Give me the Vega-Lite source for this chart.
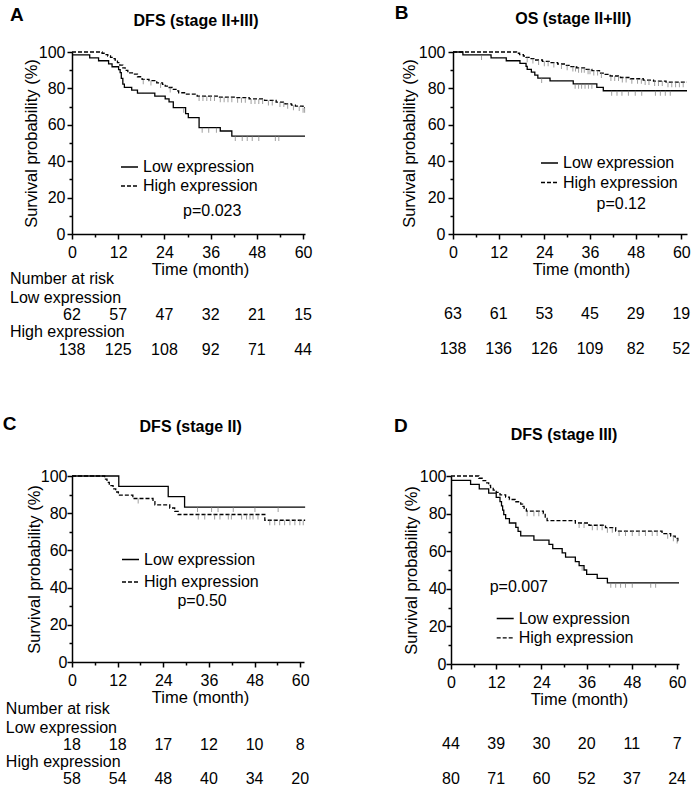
{
"$schema":"https://vega.github.io/schema/vega-lite/v6.json",
"padding":{"left":2,"top":4,"right":0,"bottom":0},
"spacing":57,
"config":{"view":{"stroke":null},"font":"Liberation Sans",
 "axis":{"domainColor":"black","domainWidth":1.5,"tickColor":"black","tickWidth":1.5,"labelColor":"black","labelFont":"Liberation Sans","labelFontSize":16,"titleFont":"Liberation Sans","titleFontSize":16.5,"titleFontWeight":"normal","titleColor":"black","grid":false,"labelFlush":false,"labelOverlap":false},
 "legend":{"labelFont":"Liberation Sans","labelFontSize":16,"labelColor":"black","symbolType":"stroke","symbolSize":289,"symbolStrokeWidth":1.3,"symbolStrokeColor":"black","labelOffset":4,"padding":0,"title":null},
 "text":{"font":"Liberation Sans","fontSize":16,"color":"black"}},
"datasets":{
"km":[
{"p":"A","g":"Low expression","t":0,"s":98.4},{"p":"A","g":"Low expression","t":4.6,"s":96.8},{"p":"A","g":"Low expression","t":6.9,"s":95.2},{"p":"A","g":"Low expression","t":9.5,"s":93.5},{"p":"A","g":"Low expression","t":10.4,"s":91.9},{"p":"A","g":"Low expression","t":12.1,"s":90.3},{"p":"A","g":"Low expression","t":12.5,"s":88.7},{"p":"A","g":"Low expression","t":12.8,"s":85.5},{"p":"A","g":"Low expression","t":13.2,"s":82.3},{"p":"A","g":"Low expression","t":13.6,"s":80.6},{"p":"A","g":"Low expression","t":15.5,"s":79},{"p":"A","g":"Low expression","t":17,"s":77.4},{"p":"A","g":"Low expression","t":21.5,"s":75.8},{"p":"A","g":"Low expression","t":24.2,"s":74.2},{"p":"A","g":"Low expression","t":25.2,"s":72.6},{"p":"A","g":"Low expression","t":26.3,"s":69.4},{"p":"A","g":"Low expression","t":29.5,"s":66.1},{"p":"A","g":"Low expression","t":30.2,"s":63.9},{"p":"A","g":"Low expression","t":33,"s":58.4},{"p":"A","g":"Low expression","t":38.5,"s":56.6},{"p":"A","g":"Low expression","t":41.5,"s":53.8},{"p":"A","g":"Low expression","t":60.5,"s":53.8},
{"p":"A","g":"High expression","t":0,"s":100},{"p":"A","g":"High expression","t":7.8,"s":99.3},{"p":"A","g":"High expression","t":8.6,"s":98.6},{"p":"A","g":"High expression","t":9.3,"s":97.8},{"p":"A","g":"High expression","t":10,"s":97.1},{"p":"A","g":"High expression","t":10.6,"s":96.4},{"p":"A","g":"High expression","t":11.2,"s":95.6},{"p":"A","g":"High expression","t":11.8,"s":94.2},{"p":"A","g":"High expression","t":12.4,"s":92.8},{"p":"A","g":"High expression","t":13.2,"s":91.3},{"p":"A","g":"High expression","t":13.8,"s":89.9},{"p":"A","g":"High expression","t":14.5,"s":88.5},{"p":"A","g":"High expression","t":16,"s":87.8},{"p":"A","g":"High expression","t":17,"s":86.4},{"p":"A","g":"High expression","t":18.2,"s":85},{"p":"A","g":"High expression","t":20,"s":84.3},{"p":"A","g":"High expression","t":22,"s":83},{"p":"A","g":"High expression","t":23.5,"s":82.2},{"p":"A","g":"High expression","t":24.2,"s":81.3},{"p":"A","g":"High expression","t":25,"s":80.5},{"p":"A","g":"High expression","t":26,"s":79.5},{"p":"A","g":"High expression","t":27,"s":78.6},{"p":"A","g":"High expression","t":27.7,"s":77.6},{"p":"A","g":"High expression","t":29.5,"s":76.8},{"p":"A","g":"High expression","t":32.5,"s":75.8},{"p":"A","g":"High expression","t":38,"s":75.2},{"p":"A","g":"High expression","t":42.3,"s":74.9},{"p":"A","g":"High expression","t":46,"s":74.2},{"p":"A","g":"High expression","t":50,"s":73.4},{"p":"A","g":"High expression","t":53,"s":72.5},{"p":"A","g":"High expression","t":55.3,"s":71.5},{"p":"A","g":"High expression","t":57,"s":70.8},{"p":"A","g":"High expression","t":58,"s":70.3},{"p":"A","g":"High expression","t":60,"s":69.4},{"p":"A","g":"High expression","t":60.5,"s":69.4},
{"p":"B","g":"Low expression","t":0,"s":100},{"p":"B","g":"Low expression","t":2.6,"s":98.4},{"p":"B","g":"Low expression","t":10,"s":96.8},{"p":"B","g":"Low expression","t":14,"s":95.2},{"p":"B","g":"Low expression","t":17.6,"s":93.7},{"p":"B","g":"Low expression","t":19.2,"s":92.1},{"p":"B","g":"Low expression","t":19.5,"s":90.5},{"p":"B","g":"Low expression","t":20.6,"s":88.9},{"p":"B","g":"Low expression","t":21.5,"s":87.3},{"p":"B","g":"Low expression","t":22.3,"s":85.7},{"p":"B","g":"Low expression","t":25.5,"s":84.1},{"p":"B","g":"Low expression","t":31.6,"s":82.5},{"p":"B","g":"Low expression","t":37.8,"s":80.6},{"p":"B","g":"Low expression","t":39.5,"s":78.7},{"p":"B","g":"Low expression","t":61.5,"s":78.7},
{"p":"B","g":"High expression","t":0,"s":100},{"p":"B","g":"High expression","t":16.7,"s":99.3},{"p":"B","g":"High expression","t":17.5,"s":98.6},{"p":"B","g":"High expression","t":18.5,"s":97.8},{"p":"B","g":"High expression","t":19.2,"s":97.1},{"p":"B","g":"High expression","t":20.2,"s":96.4},{"p":"B","g":"High expression","t":21.5,"s":95.6},{"p":"B","g":"High expression","t":23.5,"s":94.9},{"p":"B","g":"High expression","t":25.5,"s":94.2},{"p":"B","g":"High expression","t":27.5,"s":93.4},{"p":"B","g":"High expression","t":29.5,"s":92.7},{"p":"B","g":"High expression","t":31,"s":92},{"p":"B","g":"High expression","t":32.5,"s":91.3},{"p":"B","g":"High expression","t":35,"s":90.5},{"p":"B","g":"High expression","t":36.5,"s":89.8},{"p":"B","g":"High expression","t":38.5,"s":88.4},{"p":"B","g":"High expression","t":40,"s":87.7},{"p":"B","g":"High expression","t":41.3,"s":86.8},{"p":"B","g":"High expression","t":44,"s":86},{"p":"B","g":"High expression","t":46.6,"s":85.3},{"p":"B","g":"High expression","t":50,"s":84.6},{"p":"B","g":"High expression","t":52.7,"s":84},{"p":"B","g":"High expression","t":56,"s":83.4},{"p":"B","g":"High expression","t":61.5,"s":83.4},
{"p":"C","g":"Low expression","t":0,"s":100},{"p":"C","g":"Low expression","t":12.3,"s":94.4},{"p":"C","g":"Low expression","t":25.3,"s":88.9},{"p":"C","g":"Low expression","t":29.6,"s":83.3},{"p":"C","g":"Low expression","t":61.3,"s":83.3},
{"p":"C","g":"High expression","t":0,"s":100},{"p":"C","g":"High expression","t":8.6,"s":98.3},{"p":"C","g":"High expression","t":9.2,"s":96.6},{"p":"C","g":"High expression","t":9.8,"s":94.8},{"p":"C","g":"High expression","t":10.8,"s":93.1},{"p":"C","g":"High expression","t":11.5,"s":91.4},{"p":"C","g":"High expression","t":12.2,"s":89.7},{"p":"C","g":"High expression","t":16,"s":87.9},{"p":"C","g":"High expression","t":21.3,"s":86.2},{"p":"C","g":"High expression","t":21.8,"s":84.5},{"p":"C","g":"High expression","t":25.7,"s":82.8},{"p":"C","g":"High expression","t":27,"s":81},{"p":"C","g":"High expression","t":27.9,"s":79.3},{"p":"C","g":"High expression","t":50.7,"s":76.2},{"p":"C","g":"High expression","t":61.3,"s":76.2},
{"p":"D","g":"Low expression","t":0,"s":97.7},{"p":"D","g":"Low expression","t":5.2,"s":95.5},{"p":"D","g":"Low expression","t":7.5,"s":93.2},{"p":"D","g":"Low expression","t":10,"s":90.9},{"p":"D","g":"Low expression","t":12,"s":88.6},{"p":"D","g":"Low expression","t":13,"s":86.4},{"p":"D","g":"Low expression","t":13.4,"s":84.1},{"p":"D","g":"Low expression","t":13.7,"s":81.8},{"p":"D","g":"Low expression","t":14,"s":79.5},{"p":"D","g":"Low expression","t":14.5,"s":77.3},{"p":"D","g":"Low expression","t":15.5,"s":75},{"p":"D","g":"Low expression","t":17.2,"s":72.7},{"p":"D","g":"Low expression","t":17.8,"s":70.5},{"p":"D","g":"Low expression","t":18.5,"s":68.2},{"p":"D","g":"Low expression","t":22,"s":65.9},{"p":"D","g":"Low expression","t":26,"s":63.6},{"p":"D","g":"Low expression","t":27,"s":61.4},{"p":"D","g":"Low expression","t":29.5,"s":59.1},{"p":"D","g":"Low expression","t":30.4,"s":56.8},{"p":"D","g":"Low expression","t":33,"s":54.5},{"p":"D","g":"Low expression","t":34,"s":52.3},{"p":"D","g":"Low expression","t":35.3,"s":50},{"p":"D","g":"Low expression","t":36,"s":47.7},{"p":"D","g":"Low expression","t":38.8,"s":45.5},{"p":"D","g":"Low expression","t":41.5,"s":43.2},{"p":"D","g":"Low expression","t":60.5,"s":43.2},
{"p":"D","g":"High expression","t":0,"s":100},{"p":"D","g":"High expression","t":7.4,"s":98.8},{"p":"D","g":"High expression","t":8.5,"s":97.5},{"p":"D","g":"High expression","t":9.2,"s":96.3},{"p":"D","g":"High expression","t":10,"s":95},{"p":"D","g":"High expression","t":10.5,"s":93.8},{"p":"D","g":"High expression","t":11.2,"s":92.5},{"p":"D","g":"High expression","t":12,"s":91.3},{"p":"D","g":"High expression","t":13,"s":90},{"p":"D","g":"High expression","t":14.5,"s":88.8},{"p":"D","g":"High expression","t":15.5,"s":87.5},{"p":"D","g":"High expression","t":17,"s":86.3},{"p":"D","g":"High expression","t":18.5,"s":85},{"p":"D","g":"High expression","t":19,"s":83.8},{"p":"D","g":"High expression","t":19.4,"s":82.5},{"p":"D","g":"High expression","t":20,"s":81.3},{"p":"D","g":"High expression","t":24.5,"s":80},{"p":"D","g":"High expression","t":25,"s":77.5},{"p":"D","g":"High expression","t":25.5,"s":76.3},{"p":"D","g":"High expression","t":33,"s":75},{"p":"D","g":"High expression","t":36.6,"s":73.8},{"p":"D","g":"High expression","t":41,"s":72.5},{"p":"D","g":"High expression","t":43.7,"s":70.7},{"p":"D","g":"High expression","t":56,"s":69.3},{"p":"D","g":"High expression","t":58.3,"s":68},{"p":"D","g":"High expression","t":59.5,"s":66.8},{"p":"D","g":"High expression","t":60.2,"s":65.5},{"p":"D","g":"High expression","t":60.5,"s":65.5}
],
"cens":[
{"p":"A","t":29,"s":69.4},{"p":"A","t":33.8,"s":58.4},{"p":"A","t":35.5,"s":58.4},{"p":"A","t":37.5,"s":58.4},{"p":"A","t":42.4,"s":53.8},{"p":"A","t":44.2,"s":53.8},{"p":"A","t":45.5,"s":53.8},{"p":"A","t":46.8,"s":53.8},{"p":"A","t":48.5,"s":53.8},{"p":"A","t":52.8,"s":53.8},{"p":"A","t":53.7,"s":53.8},
{"p":"A","t":18.5,"s":85},{"p":"A","t":20.5,"s":84.3},{"p":"A","t":23,"s":83},{"p":"A","t":25.5,"s":80.5},{"p":"A","t":33,"s":75.8},{"p":"A","t":34,"s":75.8},{"p":"A","t":35,"s":75.8},{"p":"A","t":36,"s":75.8},{"p":"A","t":37,"s":75.8},{"p":"A","t":38.5,"s":75.2},{"p":"A","t":39.5,"s":75.2},{"p":"A","t":40.5,"s":75.2},{"p":"A","t":41.5,"s":75.2},{"p":"A","t":43,"s":74.9},{"p":"A","t":44,"s":74.9},{"p":"A","t":45,"s":74.9},{"p":"A","t":46.5,"s":74.2},{"p":"A","t":47.5,"s":74.2},{"p":"A","t":48.5,"s":74.2},{"p":"A","t":49.5,"s":74.2},{"p":"A","t":51,"s":73.4},{"p":"A","t":52,"s":73.4},{"p":"A","t":54,"s":72.5},{"p":"A","t":55,"s":72.5},{"p":"A","t":56,"s":71.5},{"p":"A","t":57.5,"s":70.8},{"p":"A","t":59,"s":70.3},{"p":"A","t":60,"s":69.4},{"p":"A","t":60.4,"s":69.4},
{"p":"B","t":7.5,"s":98.4},{"p":"B","t":23.3,"s":85.7},{"p":"B","t":32.1,"s":82.5},{"p":"B","t":33,"s":82.5},{"p":"B","t":33.8,"s":82.5},{"p":"B","t":34.7,"s":82.5},{"p":"B","t":35.6,"s":82.5},{"p":"B","t":36.5,"s":82.5},{"p":"B","t":41.7,"s":78.7},{"p":"B","t":43.1,"s":78.7},{"p":"B","t":44.4,"s":78.7},{"p":"B","t":46.1,"s":78.7},{"p":"B","t":47.9,"s":78.7},{"p":"B","t":49.6,"s":78.7},{"p":"B","t":53.2,"s":78.7},{"p":"B","t":54.5,"s":78.7},{"p":"B","t":55.8,"s":78.7},{"p":"B","t":57.1,"s":78.7},
{"p":"B","t":19.5,"s":97.1},{"p":"B","t":21,"s":96.4},{"p":"B","t":22.5,"s":95.6},{"p":"B","t":24,"s":94.9},{"p":"B","t":25,"s":94.9},{"p":"B","t":26.5,"s":94.2},{"p":"B","t":28.5,"s":93.4},{"p":"B","t":30,"s":92.7},{"p":"B","t":31.5,"s":92},{"p":"B","t":32.2,"s":92},{"p":"B","t":33,"s":91.3},{"p":"B","t":33.8,"s":91.3},{"p":"B","t":34.5,"s":91.3},{"p":"B","t":35.5,"s":90.5},{"p":"B","t":36,"s":90.5},{"p":"B","t":37,"s":89.8},{"p":"B","t":38,"s":89.8},{"p":"B","t":39,"s":88.4},{"p":"B","t":41.5,"s":86.8},{"p":"B","t":42.5,"s":86.8},{"p":"B","t":43.5,"s":86.8},{"p":"B","t":44.5,"s":86},{"p":"B","t":45.5,"s":86},{"p":"B","t":47,"s":85.3},{"p":"B","t":48.5,"s":85.3},{"p":"B","t":49.5,"s":85.3},{"p":"B","t":50.5,"s":84.6},{"p":"B","t":51.5,"s":84.6},{"p":"B","t":53,"s":84},{"p":"B","t":54,"s":84},{"p":"B","t":55,"s":84},{"p":"B","t":56.5,"s":83.4},{"p":"B","t":57.5,"s":83.4},{"p":"B","t":58.5,"s":83.4},{"p":"B","t":59.5,"s":83.4},{"p":"B","t":60.5,"s":83.4},
{"p":"C","t":33,"s":83.3},{"p":"C","t":36.7,"s":83.3},{"p":"C","t":38.4,"s":83.3},{"p":"C","t":42.4,"s":83.3},{"p":"C","t":48.1,"s":83.3},{"p":"C","t":54.2,"s":83.3},
{"p":"C","t":17.4,"s":87.9},{"p":"C","t":33.2,"s":79.3},{"p":"C","t":34.9,"s":79.3},{"p":"C","t":37.5,"s":79.3},{"p":"C","t":38.9,"s":79.3},{"p":"C","t":41.1,"s":79.3},{"p":"C","t":41.9,"s":79.3},{"p":"C","t":44.6,"s":79.3},{"p":"C","t":45.9,"s":79.3},{"p":"C","t":46.8,"s":79.3},{"p":"C","t":47.6,"s":79.3},{"p":"C","t":48.9,"s":79.3},{"p":"C","t":52,"s":76.2},{"p":"C","t":53.3,"s":76.2},{"p":"C","t":54.6,"s":76.2},{"p":"C","t":55.9,"s":76.2},{"p":"C","t":57.3,"s":76.2},{"p":"C","t":58.6,"s":76.2},{"p":"C","t":59.9,"s":76.2},{"p":"C","t":60.8,"s":76.2},
{"p":"D","t":34.8,"s":52.3},{"p":"D","t":42.4,"s":43.2},{"p":"D","t":43.7,"s":43.2},{"p":"D","t":45,"s":43.2},{"p":"D","t":46.3,"s":43.2},{"p":"D","t":48.1,"s":43.2},{"p":"D","t":53,"s":43.2},{"p":"D","t":54.3,"s":43.2},
{"p":"D","t":20.2,"s":81.3},{"p":"D","t":22,"s":81.3},{"p":"D","t":23.3,"s":81.3},{"p":"D","t":34,"s":75},{"p":"D","t":35.3,"s":75},{"p":"D","t":37.5,"s":73.8},{"p":"D","t":38.8,"s":73.8},{"p":"D","t":40.1,"s":73.8},{"p":"D","t":41.5,"s":72.5},{"p":"D","t":42.8,"s":72.5},{"p":"D","t":44.6,"s":70.7},{"p":"D","t":46.3,"s":70.7},{"p":"D","t":48.1,"s":70.7},{"p":"D","t":49.9,"s":70.7},{"p":"D","t":51.6,"s":70.7},{"p":"D","t":53.4,"s":70.7},{"p":"D","t":54.7,"s":70.7},{"p":"D","t":57.5,"s":69.3},{"p":"D","t":59,"s":68},{"p":"D","t":60,"s":66.8}
],
"risk":[
{"p":"A","g":"L","t":0,"n":62},{"p":"A","g":"L","t":12,"n":57},{"p":"A","g":"L","t":24,"n":47},{"p":"A","g":"L","t":36,"n":32},{"p":"A","g":"L","t":48,"n":21},{"p":"A","g":"L","t":60,"n":15},
{"p":"A","g":"H","t":0,"n":138},{"p":"A","g":"H","t":12,"n":125},{"p":"A","g":"H","t":24,"n":108},{"p":"A","g":"H","t":36,"n":92},{"p":"A","g":"H","t":48,"n":71},{"p":"A","g":"H","t":60,"n":44},
{"p":"B","g":"L","t":0,"n":63},{"p":"B","g":"L","t":12,"n":61},{"p":"B","g":"L","t":24,"n":53},{"p":"B","g":"L","t":36,"n":45},{"p":"B","g":"L","t":48,"n":29},{"p":"B","g":"L","t":60,"n":19},
{"p":"B","g":"H","t":0,"n":138},{"p":"B","g":"H","t":12,"n":136},{"p":"B","g":"H","t":24,"n":126},{"p":"B","g":"H","t":36,"n":109},{"p":"B","g":"H","t":48,"n":82},{"p":"B","g":"H","t":60,"n":52},
{"p":"C","g":"L","t":0,"n":18},{"p":"C","g":"L","t":12,"n":18},{"p":"C","g":"L","t":24,"n":17},{"p":"C","g":"L","t":36,"n":12},{"p":"C","g":"L","t":48,"n":10},{"p":"C","g":"L","t":60,"n":8},
{"p":"C","g":"H","t":0,"n":58},{"p":"C","g":"H","t":12,"n":54},{"p":"C","g":"H","t":24,"n":48},{"p":"C","g":"H","t":36,"n":40},{"p":"C","g":"H","t":48,"n":34},{"p":"C","g":"H","t":60,"n":20},
{"p":"D","g":"L","t":0,"n":44},{"p":"D","g":"L","t":12,"n":39},{"p":"D","g":"L","t":24,"n":30},{"p":"D","g":"L","t":36,"n":20},{"p":"D","g":"L","t":48,"n":11},{"p":"D","g":"L","t":60,"n":7},
{"p":"D","g":"H","t":0,"n":80},{"p":"D","g":"H","t":12,"n":71},{"p":"D","g":"H","t":24,"n":60},{"p":"D","g":"H","t":36,"n":52},{"p":"D","g":"H","t":48,"n":37},{"p":"D","g":"H","t":60,"n":24}
]},
"resolve":{"scale":{"x":"independent","y":"independent","strokeDash":"independent"},"axis":{"x":"independent","y":"independent"},"legend":{"strokeDash":"independent"}},
"vconcat":[
{"spacing":82,
 "resolve":{"scale":{"x":"independent","y":"independent","strokeDash":"independent"},"axis":{"x":"independent","y":"independent"},"legend":{"strokeDash":"independent"}},
 "hconcat":[
 {"width":233,"height":182,
  "layer":[
   {"data":{"name":"km"},"transform":[{"filter":"datum.p==='A'"}],
    "mark":{"type":"line","interpolate":"step-after","color":"black","strokeWidth":1.3},
    "encoding":{
     "x":{"field":"t","type":"quantitative","scale":{"domain":[0,60.5],"nice":false,"zero":false},
      "axis":{"title":"Time (month)","values":[0,6,12,18,24,30,36,42,48,54,60],"tickCount":30,"labelExpr":"datum.value % 12 === 0 ? datum.label : ''","labelOverlap":false,"tickSize":{"condition":{"test":"datum.value % 12 === 0","value":5},"value":3},"labelPadding":5.5,"titleX":128,"titlePadding":1}},
     "y":{"field":"s","type":"quantitative","scale":{"domain":[0,100],"nice":false},
      "axis":{"title":"Survival probability (%)","values":[0,10,20,30,40,50,60,70,80,90,100],"tickCount":30,"labelExpr":"datum.value % 20 === 0 ? datum.label : ''","labelOverlap":false,"tickSize":{"condition":{"test":"datum.value % 20 === 0","value":5},"value":3},"labelPadding":2,"titlePadding":-1}},
     "strokeDash":{"field":"g","type":"nominal","scale":{"domain":["Low expression","High expression"],"range":[[1,0],[4,2]]},
      "legend":{"orient":"none","legendX":48,"legendY":105.5,"rowPadding":1}}}},
   {"data":{"name":"cens"},"transform":[{"filter":"datum.p==='A'"}],"mark":{"type":"tick","orient":"vertical","color":"#777","size":5,"thickness":1,"yOffset":2.5},
    "encoding":{"x":{"field":"t","type":"quantitative"},"y":{"field":"s","type":"quantitative"}}},
   {"data":{"values":[{}]},"mark":{"type":"text","text":"A","fontSize":19,"fontWeight":"bold","align":"left","baseline":"middle"},"encoding":{"x":{"datum":-16.1},"y":{"datum":120.3}}},
   {"data":{"values":[{}]},"mark":{"type":"text","text":"DFS (stage II+III)","fontSize":16,"fontWeight":"bold","align":"center","baseline":"middle"},"encoding":{"x":{"datum":32.2},"y":{"datum":117}}},
   {"data":{"values":[{}]},"mark":{"type":"text","text":"p=0.023","align":"center","baseline":"middle"},"encoding":{"x":{"datum":36.4},"y":{"datum":12.6}}},
   {"data":{"values":[{}]},"mark":{"type":"text","text":"Number at risk","align":"left","baseline":"middle"},"encoding":{"x":{"datum":-16.1},"y":{"datum":-24.5}}},
   {"data":{"values":[{}]},"mark":{"type":"text","text":"Low expression","align":"left","baseline":"middle"},"encoding":{"x":{"datum":-16.1},"y":{"datum":-35}}},
   {"data":{"values":[{}]},"mark":{"type":"text","text":"High expression","align":"left","baseline":"middle"},"encoding":{"x":{"datum":-16.1},"y":{"datum":-53.6}}},
   {"data":{"name":"risk"},"transform":[{"filter":"datum.p==='A' && datum.g==='L'"}],"mark":{"type":"text","align":"center","baseline":"middle"},"encoding":{"x":{"field":"t","type":"quantitative"},"y":{"datum":-44.3},"text":{"field":"n"}}},
   {"data":{"name":"risk"},"transform":[{"filter":"datum.p==='A' && datum.g==='H'"}],"mark":{"type":"text","align":"center","baseline":"middle"},"encoding":{"x":{"field":"t","type":"quantitative"},"y":{"datum":-63.5},"text":{"field":"n"}}}
  ]},
 {"width":234,"height":182,
  "layer":[
   {"data":{"name":"km"},"transform":[{"filter":"datum.p==='B'"}],
    "mark":{"type":"line","interpolate":"step-after","color":"black","strokeWidth":1.3},
    "encoding":{
     "x":{"field":"t","type":"quantitative","scale":{"domain":[0,61.5],"nice":false,"zero":false},
      "axis":{"title":"Time (month)","values":[0,6,12,18,24,30,36,42,48,54,60],"tickCount":30,"labelExpr":"datum.value % 12 === 0 ? datum.label : ''","labelOverlap":false,"tickSize":{"condition":{"test":"datum.value % 12 === 0","value":5},"value":3},"labelPadding":5.5,"titleX":128,"titlePadding":1}},
     "y":{"field":"s","type":"quantitative","scale":{"domain":[0,100],"nice":false},
      "axis":{"title":"Survival probability (%)","values":[0,10,20,30,40,50,60,70,80,90,100],"tickCount":30,"labelExpr":"datum.value % 20 === 0 ? datum.label : ''","labelOverlap":false,"tickSize":{"condition":{"test":"datum.value % 20 === 0","value":5},"value":3},"labelPadding":3,"titlePadding":0.5}},
     "strokeDash":{"field":"g","type":"nominal","scale":{"domain":["Low expression","High expression"],"range":[[1,0],[4,2]]},
      "legend":{"orient":"none","legendX":87,"legendY":101.5,"rowPadding":1.5}}}},
   {"data":{"name":"cens"},"transform":[{"filter":"datum.p==='B'"}],"mark":{"type":"tick","orient":"vertical","color":"#777","size":5,"thickness":1,"yOffset":2.5},
    "encoding":{"x":{"field":"t","type":"quantitative"},"y":{"field":"s","type":"quantitative"}}},
   {"data":{"values":[{}]},"mark":{"type":"text","text":"B","fontSize":19,"fontWeight":"bold","align":"left","baseline":"middle"},"encoding":{"x":{"datum":-15.3},"y":{"datum":121.4}}},
   {"data":{"values":[{}]},"mark":{"type":"text","text":"OS (stage II+III)","fontSize":16,"fontWeight":"bold","align":"center","baseline":"middle"},"encoding":{"x":{"datum":31.6},"y":{"datum":118.1}}},
   {"data":{"values":[{}]},"mark":{"type":"text","text":"p=0.12","align":"center","baseline":"middle"},"encoding":{"x":{"datum":44.2},"y":{"datum":16.5}}},
   {"data":{"name":"risk"},"transform":[{"filter":"datum.p==='B' && datum.g==='L'"}],"mark":{"type":"text","align":"center","baseline":"middle"},"encoding":{"x":{"field":"t","type":"quantitative"},"y":{"datum":-44},"text":{"field":"n"}}},
   {"data":{"name":"risk"},"transform":[{"filter":"datum.p==='B' && datum.g==='H'"}],"mark":{"type":"text","align":"center","baseline":"middle"},"encoding":{"x":{"field":"t","type":"quantitative"},"y":{"datum":-63.2},"text":{"field":"n"}}}
  ]}
 ]},
{"spacing":84,
 "resolve":{"scale":{"x":"independent","y":"independent","strokeDash":"independent"},"axis":{"x":"independent","y":"independent"},"legend":{"strokeDash":"independent"}},
 "hconcat":[
 {"width":232,"height":186,
  "layer":[
   {"data":{"name":"km"},"transform":[{"filter":"datum.p==='C'"}],
    "mark":{"type":"line","interpolate":"step-after","color":"black","strokeWidth":1.3},
    "encoding":{
     "x":{"field":"t","type":"quantitative","scale":{"domain":[0,61],"nice":false,"zero":false},
      "axis":{"title":"Time (month)","values":[0,6,12,18,24,30,36,42,48,54,60],"tickCount":30,"labelExpr":"datum.value % 12 === 0 ? datum.label : ''","labelOverlap":false,"tickSize":{"condition":{"test":"datum.value % 12 === 0","value":5},"value":3},"labelPadding":5.5,"titleX":128,"titlePadding":1}},
     "y":{"field":"s","type":"quantitative","scale":{"domain":[0,100],"nice":false},
      "axis":{"title":"Survival probability (%)","values":[0,10,20,30,40,50,60,70,80,90,100],"tickCount":30,"labelExpr":"datum.value % 20 === 0 ? datum.label : ''","labelOverlap":false,"tickSize":{"condition":{"test":"datum.value % 20 === 0","value":5},"value":3},"labelPadding":0,"titlePadding":-2}},
     "strokeDash":{"field":"g","type":"nominal","scale":{"domain":["Low expression","High expression"],"range":[[1,0],[4,2]]},
      "legend":{"orient":"none","legendX":49,"legendY":74,"rowPadding":4.5}}}},
   {"data":{"name":"cens"},"transform":[{"filter":"datum.p==='C'"}],"mark":{"type":"tick","orient":"vertical","color":"#777","size":5,"thickness":1,"yOffset":2.5},
    "encoding":{"x":{"field":"t","type":"quantitative"},"y":{"field":"s","type":"quantitative"}}},
   {"data":{"values":[{}]},"mark":{"type":"text","text":"C","fontSize":19,"fontWeight":"bold","align":"left","baseline":"middle"},"encoding":{"x":{"datum":-18.2},"y":{"datum":127.7}}},
   {"data":{"values":[{}]},"mark":{"type":"text","text":"DFS (stage II)","fontSize":16,"fontWeight":"bold","align":"center","baseline":"middle"},"encoding":{"x":{"datum":31.2},"y":{"datum":126.3}}},
   {"data":{"values":[{}]},"mark":{"type":"text","text":"p=0.50","align":"center","baseline":"middle"},"encoding":{"x":{"datum":34.2},"y":{"datum":33}}},
   {"data":{"values":[{}]},"mark":{"type":"text","text":"Number at risk","align":"left","baseline":"middle"},"encoding":{"x":{"datum":-17.4},"y":{"datum":-25}}},
   {"data":{"values":[{}]},"mark":{"type":"text","text":"Low expression","align":"left","baseline":"middle"},"encoding":{"x":{"datum":-17.4},"y":{"datum":-35.4}}},
   {"data":{"values":[{}]},"mark":{"type":"text","text":"High expression","align":"left","baseline":"middle"},"encoding":{"x":{"datum":-17.4},"y":{"datum":-54}}},
   {"data":{"name":"risk"},"transform":[{"filter":"datum.p==='C' && datum.g==='L'"}],"mark":{"type":"text","align":"center","baseline":"middle"},"encoding":{"x":{"field":"t","type":"quantitative"},"y":{"datum":-44.4},"text":{"field":"n"}}},
   {"data":{"name":"risk"},"transform":[{"filter":"datum.p==='C' && datum.g==='H'"}],"mark":{"type":"text","align":"center","baseline":"middle"},"encoding":{"x":{"field":"t","type":"quantitative"},"y":{"datum":-63},"text":{"field":"n"}}}
  ]},
 {"width":228,"height":188,
  "layer":[
   {"data":{"name":"km"},"transform":[{"filter":"datum.p==='D'"}],
    "mark":{"type":"line","interpolate":"step-after","color":"black","strokeWidth":1.3},
    "encoding":{
     "x":{"field":"t","type":"quantitative","scale":{"domain":[0,60.5],"nice":false,"zero":false},
      "axis":{"title":"Time (month)","values":[0,6,12,18,24,30,36,42,48,54,60],"tickCount":30,"labelExpr":"datum.value % 12 === 0 ? datum.label : ''","labelOverlap":false,"tickSize":{"condition":{"test":"datum.value % 12 === 0","value":5},"value":3},"labelPadding":5.5,"titleX":128,"titlePadding":0.5}},
     "y":{"field":"s","type":"quantitative","scale":{"domain":[0,100],"nice":false},
      "axis":{"title":"Survival probability (%)","values":[0,10,20,30,40,50,60,70,80,90,100],"tickCount":30,"labelExpr":"datum.value % 20 === 0 ? datum.label : ''","labelOverlap":false,"tickSize":{"condition":{"test":"datum.value % 20 === 0","value":5},"value":3},"labelPadding":0,"titlePadding":0}},
     "strokeDash":{"field":"g","type":"nominal","scale":{"domain":["Low expression","High expression"],"range":[[1,0],[4,2]]},
      "legend":{"orient":"none","legendX":44.7,"legendY":133,"rowPadding":1.3}}}},
   {"data":{"name":"cens"},"transform":[{"filter":"datum.p==='D'"}],"mark":{"type":"tick","orient":"vertical","color":"#777","size":5,"thickness":1,"yOffset":2.5},
    "encoding":{"x":{"field":"t","type":"quantitative"},"y":{"field":"s","type":"quantitative"}}},
   {"data":{"values":[{}]},"mark":{"type":"text","text":"D","fontSize":19,"fontWeight":"bold","align":"left","baseline":"middle"},"encoding":{"x":{"datum":-15.1},"y":{"datum":126.6}}},
   {"data":{"values":[{}]},"mark":{"type":"text","text":"DFS (stage III)","fontSize":16,"fontWeight":"bold","align":"center","baseline":"middle"},"encoding":{"x":{"datum":30},"y":{"datum":121.8}}},
   {"data":{"values":[{}]},"mark":{"type":"text","text":"p=0.007","align":"center","baseline":"middle"},"encoding":{"x":{"datum":18},"y":{"datum":40.7}}},
   {"data":{"name":"risk"},"transform":[{"filter":"datum.p==='D' && datum.g==='L'"}],"mark":{"type":"text","align":"center","baseline":"middle"},"encoding":{"x":{"field":"t","type":"quantitative"},"y":{"datum":-42.4},"text":{"field":"n"}}},
   {"data":{"name":"risk"},"transform":[{"filter":"datum.p==='D' && datum.g==='H'"}],"mark":{"type":"text","align":"center","baseline":"middle"},"encoding":{"x":{"field":"t","type":"quantitative"},"y":{"datum":-61},"text":{"field":"n"}}}
  ]}
 ]}
]}
